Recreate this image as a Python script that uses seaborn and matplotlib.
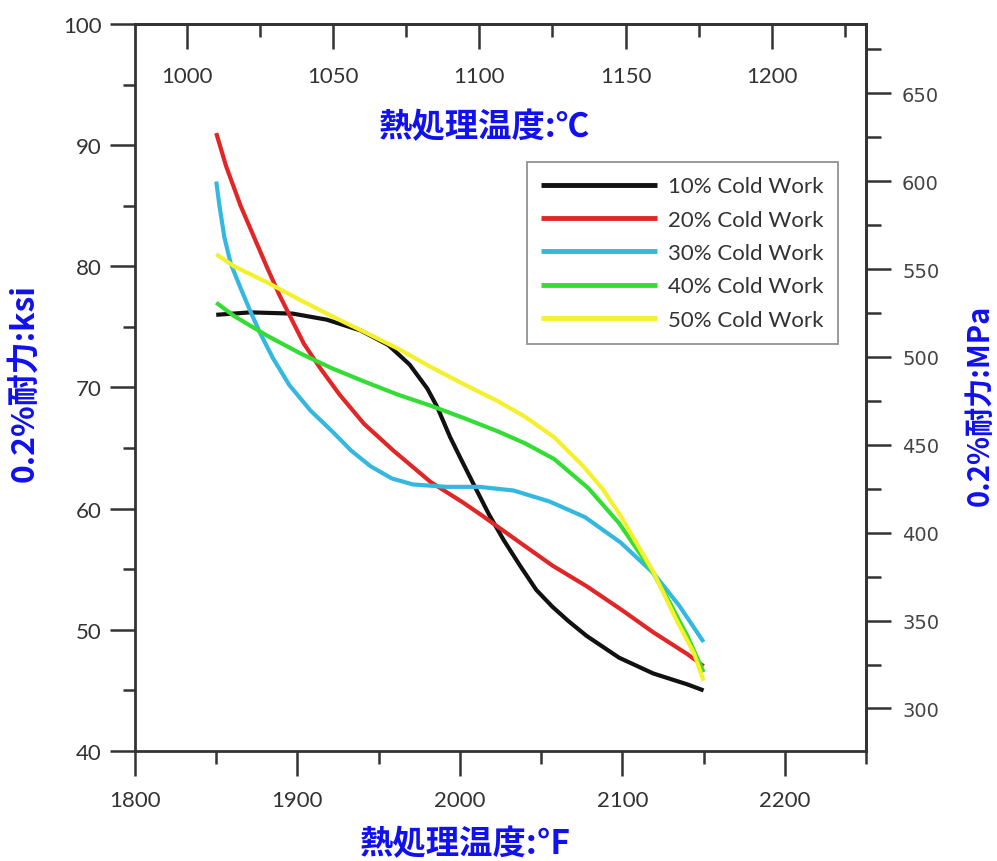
import matplotlib
matplotlib.use("Agg")
import matplotlib.pyplot as plt
from matplotlib.ticker import MultipleLocator, FixedLocator
import numpy as np
import pandas as pd
import seaborn as sns

# ---------------- data ----------------
series_names = ["10% Cold Work", "20% Cold Work", "30% Cold Work",
                "40% Cold Work", "50% Cold Work"]

cw10_F = [1850, 1871, 1897, 1918, 1939, 1956, 1969, 1980, 1986, 1994, 2001,
          2010, 2018, 2027, 2037, 2047, 2057, 2067, 2078, 2098, 2119, 2140, 2150]
cw10_ksi = [76.0, 76.2, 76.1, 75.6, 74.7, 73.5, 71.9, 69.9, 68.4, 65.9, 64.0,
            61.6, 59.5, 57.4, 55.3, 53.3, 51.9, 50.7, 49.5, 47.7, 46.4, 45.5, 45.0]

cw20_F = [1850, 1856, 1865, 1873, 1881, 1889, 1895, 1904, 1914, 1926, 1941,
          1959, 1982, 2002, 2014, 2037, 2057, 2078, 2099, 2119, 2140, 2150]
cw20_ksi = [91.0, 88.3, 85.0, 82.5, 80.0, 77.6, 76.0, 73.6, 71.6, 69.4, 67.0,
            64.8, 62.2, 60.5, 59.4, 57.2, 55.3, 53.6, 51.7, 49.8, 48.0, 47.0]

cw30_F = [1850, 1852, 1855, 1859, 1865, 1871, 1877, 1885, 1895, 1908, 1922,
          1933, 1945, 1958, 1971, 1992, 2012, 2033, 2055, 2077, 2099, 2119,
          2135, 2150]
cw30_ksi = [87.0, 85.0, 82.4, 80.2, 78.2, 76.3, 74.5, 72.4, 70.2, 68.1, 66.3,
            64.8, 63.5, 62.5, 62.0, 61.8, 61.8, 61.5, 60.6, 59.3, 57.2, 54.7,
            52.0, 49.0]

cw40_F = [1850, 1861, 1881, 1902, 1921, 1941, 1962, 1982, 2002, 2023, 2040,
          2058, 2079, 2098, 2119, 2129, 2140, 2150]
cw40_ksi = [77.0, 75.9, 74.3, 72.8, 71.6, 70.5, 69.4, 68.5, 67.5, 66.4, 65.4,
            64.1, 61.7, 58.8, 54.7, 52.3, 49.5, 46.5]

cw50_F = [1850, 1861, 1881, 1902, 1921, 1941, 1962, 1982, 2002, 2023, 2040,
          2058, 2076, 2088, 2099, 2119, 2133, 2144, 2150]
cw50_ksi = [81.0, 80.0, 78.7, 77.2, 75.9, 74.6, 73.2, 71.7, 70.3, 68.9, 67.6,
            65.9, 63.5, 61.6, 59.4, 54.8, 50.9, 48.1, 45.8]

x_ticks_F = [1800, 1900, 2000, 2100, 2200]
x_ticks_C = [1000, 1050, 1100, 1150, 1200]
y_ticks_ksi = [40, 50, 60, 70, 80, 90, 100]
y_ticks_MPa = [300, 350, 400, 450, 500, 550, 600, 650]

line_colors = ["#111111", "#e02626", "#34b8e0", "#33dd33", "#f4f02c"]

# ---------------- build table ----------------
frames = []
for name, xs, ys in zip(series_names,
                        [cw10_F, cw20_F, cw30_F, cw40_F, cw50_F],
                        [cw10_ksi, cw20_ksi, cw30_ksi, cw40_ksi, cw50_ksi]):
    frames.append(pd.DataFrame({"temp": xs, "ksi": ys, "series": name}))
df = pd.concat(frames, ignore_index=True)

# ---------------- style ----------------
sns.set_style("ticks")
plt.rcParams["font.family"] = ["Lato", "DejaVu Sans"]
cjk = ["Noto Sans CJK JP", "DejaVu Sans"]
blue = "#1010f0"
spine_c = "#333333"
tick_c = "#333333"

fig = plt.figure(figsize=(9.97, 8.62), dpi=100)
ax = fig.add_axes([135 / 997, 1 - 752 / 862, 731 / 997, 727 / 862])

sns.lineplot(data=df, x="temp", y="ksi", hue="series", hue_order=series_names,
             palette=line_colors, sort=True, estimator=None, linewidth=3,
             ax=ax)
for ln in ax.get_lines():
    ln.set_solid_joinstyle("round")
    ln.set_solid_capstyle("butt")

ax.set_xlim(1800, 2250)
ax.set_ylim(40, 100)

for s in ax.spines.values():
    s.set_color(spine_c)
    s.set_linewidth(2)

ax.set_xticks(x_ticks_F)
ax.xaxis.set_minor_locator(MultipleLocator(50))
ax.set_yticks(y_ticks_ksi)
ax.yaxis.set_minor_locator(MultipleLocator(5))
ax.tick_params(which="major", direction="out", length=18, width=1.8,
               color=tick_c, labelsize=16, labelcolor="#333333", pad=6)
ax.tick_params(which="minor", direction="out", length=9, width=1.8,
               color=tick_c)
ax.tick_params(axis="x", which="major", pad=10)

# bottom label
ax.set_xlabel("熱処理温度:℉", family=cjk, fontsize=24, fontweight="bold",
              color=blue, ha="center", va="center")
ax.xaxis.set_label_coords((465 - 135) / 731, (752 - 845) / 727)

# left label
ax.set_ylabel("0.2%耐力:ksi", family=cjk, fontsize=23, fontweight="bold",
              color=blue, ha="center", va="center")
ax.yaxis.set_label_coords((24 - 135) / 731, (752 - 383) / 727)

# top Celsius axis
def f2c(f):
    return (np.asarray(f) - 32.0) * 5.0 / 9.0


def c2f(c):
    return np.asarray(c) * 9.0 / 5.0 + 32.0


secx = ax.secondary_xaxis("top", functions=(f2c, c2f))
secx.set_xticks(x_ticks_C)
secx.xaxis.set_minor_locator(MultipleLocator(25))
secx.tick_params(which="major", direction="in", length=18, width=1.8,
                 color=tick_c, labelsize=16, labelcolor="#333333", pad=-45)
secx.tick_params(which="minor", direction="in", length=9, width=1.8,
                 color=tick_c)
secx.spines["top"].set_color(spine_c)
secx.spines["top"].set_linewidth(2)

ax.text((484 - 135) / 731, (752 - 128) / 727, "熱処理温度:℃", family=cjk,
        fontsize=24, fontweight="bold", color=blue, ha="center", va="center",
        transform=ax.transAxes)

# right MPa axis
KSI_TO_MPA = 6.894757


def k2m(k):
    return np.asarray(k) * KSI_TO_MPA


def m2k(m):
    return np.asarray(m) / KSI_TO_MPA


secy = ax.secondary_yaxis("right", functions=(k2m, m2k))
secy.set_yticks(y_ticks_MPa)
secy.yaxis.set_minor_locator(FixedLocator(np.arange(325, 700, 50)))
secy.tick_params(which="major", direction="out", length=18, width=1.8,
                 color=tick_c, labelsize=14, labelcolor="#444444", pad=8)
secy.tick_params(which="minor", direction="out", length=11, width=1.8,
                 color=tick_c)
for t in secy.get_yticklabels():
    t.set_family("DejaVu Sans")
secy.spines["right"].set_color(spine_c)
secy.spines["right"].set_linewidth(2)

ax.text((980 - 135) / 731, (752 - 405) / 727, "0.2%耐力:MPa", family=cjk,
        fontsize=21, fontweight="bold", color=blue, ha="center", va="center",
        rotation=90, transform=ax.transAxes)

# legend
leg = ax.legend(loc="upper left", bbox_to_anchor=((527 - 135) / 731, (752 - 163) / 727),
                borderaxespad=0, frameon=True, fancybox=False, fontsize=16,
                handlelength=5.2, handletextpad=0.5, labelspacing=0.6,
                borderpad=0.65, title=None)
leg.get_frame().set_edgecolor("#777777")
leg.get_frame().set_linewidth(1.3)
for h in leg.get_lines():
    h.set_linewidth(3.5)
for t in leg.get_texts():
    t.set_color("#333333")

fig.savefig("out.png", dpi=100)
